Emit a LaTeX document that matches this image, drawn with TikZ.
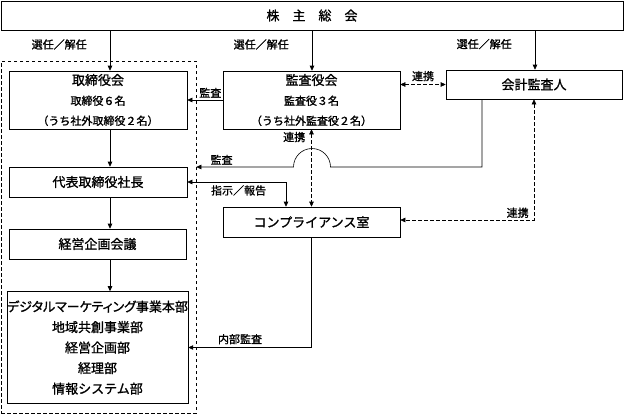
\documentclass[tikz,border=0pt]{standalone}
\usepackage{fontspec}
\setmainfont{Noto Sans CJK JP}[FakeBold=1.2]
\usetikzlibrary{arrows.meta, positioning, calc}

\begin{document}
\begin{tikzpicture}[x=1pt, y=-1pt, line width=.6pt,
    >={Triangle[length=5pt,width=4.5pt]},
    box/.style={draw, inner sep=0pt, align=center, font=\fontsize{13}{20}\selectfont},
    lbl/.style={inner sep=0pt, font=\fontsize{11}{13}\selectfont},
    link/.style={<->, dash pattern=on 3.5pt off 2.5pt}]
\useasboundingbox (0,0) rectangle (624,415);

% boxes
\node[box, minimum width=622pt, minimum height=29pt] (soukai) at (312,15.5) {株　主　総　会};
\node[draw, dash pattern=on 3.5pt off 2.5pt, minimum width=195pt, minimum height=352pt] (shikkou) at (98.5,237) {};
\node[box, minimum width=178pt, minimum height=58pt] (torishimari) at (98,100)
    {取締役会\\{\fontsize{11}{20}\selectfont 取締役６名}\\{\fontsize{11}{20}\selectfont （うち社外取締役２名）}};
\node[box, minimum width=177pt, minimum height=58pt] (kansayaku) at (311.5,100)
    {監査役会\\{\fontsize{11}{20}\selectfont 監査役３名}\\{\fontsize{11}{20}\selectfont （うち社外監査役２名）}};
\node[box, minimum width=176pt, minimum height=29pt] (kaikei) at (534,84.5) {会計監査人};
\node[box, minimum width=178pt, minimum height=30pt] (daihyo) at (98,182) {代表取締役社長};
\node[box, minimum width=177pt, minimum height=30pt] (keiei) at (97.5,244) {経営企画会議};
\node[box, minimum width=177pt, minimum height=112pt, font=\fontsize{13}{20.5}\selectfont] (bumon) at (97.5,347.5)
    {{\addfontfeatures{RawFeature=+palt}デジタルマーケティング事業本部}\\地域共創事業部\\経営企画部\\経理部\\情報システム部};
\node[box, minimum width=177pt, minimum height=30pt] (compliance) at (311.5,222) {コンプライアンス室};

% selection
\foreach \n/\x in {torishimari/110, kansayaku/312, kaikei/535}
  \draw[->] (soukai.south -| \x,0) -- (\n.north -| \x,0) node[lbl, pos=.35, left=23pt] (sen-\n) {選任／解任};

\foreach \a/\b in {torishimari/daihyo, daihyo/keiei, keiei/bumon}
  \draw[->] (\a.south -| 110,0) -- (\b.north -| 110,0);

% audit
\draw[->] (kansayaku.west) -- (torishimari.east) node[lbl, pos=.35, above=2pt] (kansa1) {監査};
\draw[->] (kaikei.south -| 482,0) -- (482,167) -- (330.5,167) arc[start angle=0, end angle=-180, radius=18.5]
    -- (shikkou.east |- 0,167) node[lbl, pos=.74, above=2pt] (kansa2) {監査};
\draw[<->] (daihyo.east) -| (compliance.north -| 286,0) node[lbl, pos=.26, below=3pt] (shiji) {指示／報告};
\draw[->] (compliance.south) |- (bumon.east) node[lbl, pos=.79, above=3pt] (naibu) {内部監査};

% cooperation
\draw[link] (kansayaku.east |- kaikei.west) -- (kaikei.west) node[lbl, midway, above=3pt] (renkei1) {連携};
\draw[link] (kansayaku.south) -- (compliance.north) node[lbl, pos=.1, left=6pt] (renkei2) {連携};
\draw[link] (kaikei.south) |- (compliance.east |- 0,220) node[lbl, pos=.47, left=5pt] (renkei3) {連携};

\end{tikzpicture}
\end{document}
